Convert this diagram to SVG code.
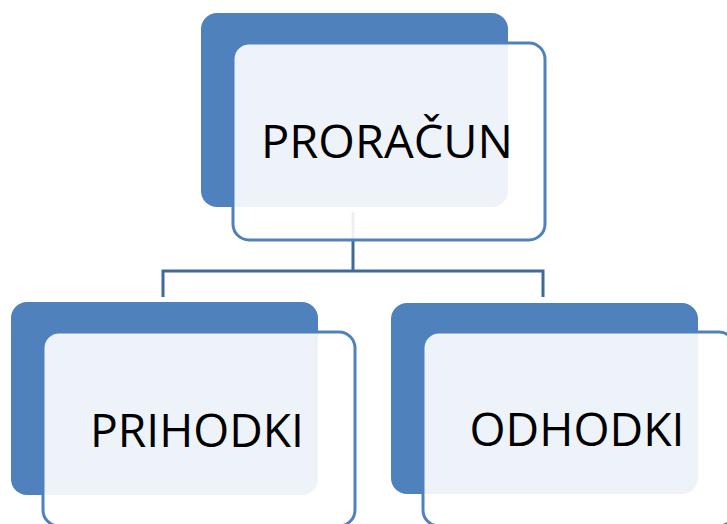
<svg xmlns="http://www.w3.org/2000/svg" width="727" height="524" viewBox="0 0 727 524">
<style>
.back{fill:#4F81BD;}
.front{fill:#FFFFFF;fill-opacity:0.9;stroke:#4F81BD;stroke-width:3;}
.lbl{font-family:"Open Sans","Liberation Sans",sans-serif;font-size:46px;fill:#000;text-anchor:middle;}
.conn{fill:none;stroke:#41699A;stroke-width:3;}
</style>
<rect width="727" height="524" fill="#FFFFFF"/>
<g id="connectors">
<path class="conn" d="M353,212 V271 M163,297 V271 H543 V297"/>
</g>
<g id="proracun">
<rect class="back" x="201" y="13" width="307" height="194" rx="16"/>
<rect class="front" x="233" y="43" width="312" height="197" rx="16"/>
<text class="lbl" x="387" y="158" textLength="252" lengthAdjust="spacingAndGlyphs">PRORAČUN</text>
</g>
<g id="prihodki">
<rect class="back" x="11" y="302" width="307" height="193" rx="16"/>
<rect class="front" x="43" y="332" width="312" height="194" rx="16"/>
<text class="lbl" x="197" y="447" textLength="214" lengthAdjust="spacingAndGlyphs">PRIHODKI</text>
</g>
<g id="odhodki">
<rect class="back" x="391" y="303" width="307" height="191" rx="16"/>
<rect class="front" x="423" y="332" width="312" height="194" rx="16"/>
<text class="lbl" x="577" y="446" textLength="215" lengthAdjust="spacingAndGlyphs">ODHODKI</text>
</g>
</svg>
